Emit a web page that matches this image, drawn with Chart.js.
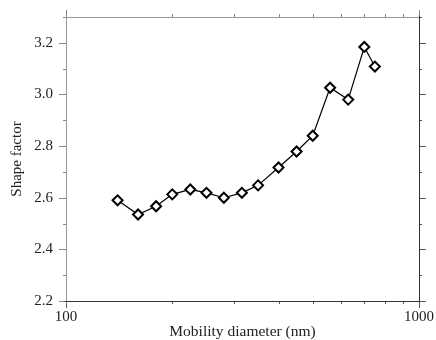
<!DOCTYPE html>
<html>
<head>
<meta charset="utf-8">
<script src="https://cdn.jsdelivr.net/npm/chart.js@4"></script>
<style>
  html, body { margin: 0; padding: 0; background: #fff; }
  #wrap { width: 436px; height: 340px; }
</style>
</head>
<body>
<div id="wrap"><canvas id="chart-shape"></canvas></div>
<script>
// Data
var diameters = [140, 160, 180, 200, 225, 250, 280, 315, 350, 400, 450, 500, 560, 630, 700, 750];
var shapeFactors = [2.59, 2.535, 2.567, 2.613, 2.632, 2.619, 2.60, 2.619, 2.648, 2.717, 2.779, 2.84, 3.026, 2.98, 3.184, 3.108];
var xTicks = [100, 200, 300, 400, 500, 600, 700, 800, 900, 1000];
var xLabels = [100, 1000];
var yTicks = [2.2, 2.3, 2.4, 2.5, 2.6, 2.7, 2.8, 2.9, 3.0, 3.1, 3.2, 3.3];
var yLabels = [2.2, 2.4, 2.6, 2.8, 3.0, 3.2];

var serif = "'Liberation Serif', 'DejaVu Serif', serif";

// Frame and tick marks on all four sides
var framePlugin = {
    id: 'frame',
    afterDraw: function (chart) {
        var ctx = chart.ctx;
        var a = chart.chartArea;
        var xs = chart.scales.x;
        var ys = chart.scales.y;
        ctx.save();
        ctx.lineWidth = 1;

        function line(x1, y1, x2, y2, color) {
            ctx.strokeStyle = color;
            ctx.beginPath();
            ctx.moveTo(x1, y1);
            ctx.lineTo(x2, y2);
            ctx.stroke();
        }

        // x ticks (bottom and top, outward)
        xTicks.forEach(function (v) {
            var px = Math.round(xs.getPixelForValue(v)) + 0.5;
            var len = xLabels.indexOf(v) >= 0 ? 7 : 3;
            line(px, a.bottom, px, a.bottom + len, '#555');
            line(px, a.top, px, a.top - len, '#888');
        });
        // y ticks (left and right, outward)
        yTicks.forEach(function (v) {
            var py = Math.round(ys.getPixelForValue(v)) + 0.5;
            var major = yLabels.some(function (l) { return Math.abs(l - v) < 1e-6; });
            var len = major ? 7 : 3;
            line(a.left, py, a.left - len, py, '#888');
            line(a.right, py, a.right + len, py, '#555');
        });

        var l = Math.round(a.left) + 0.5, r = Math.round(a.right) + 0.5;
        var t = Math.round(a.top) + 0.5, b = Math.round(a.bottom) + 0.5;
        line(l, t, r, t, '#999');
        line(l, t, l, b + 2, '#999');
        line(l - 2, b, r, b, '#333');
        line(r, t - 2, r, b, '#333');
        ctx.restore();
    }
};

new Chart(document.getElementById('chart-shape'), {
    type: 'line',
    data: {
        datasets: [{
            label: 'Shape factor',
            data: diameters.map(function (d, i) { return { x: d, y: shapeFactors[i] }; }),
            borderColor: '#000',
            borderWidth: 1.2,
            pointStyle: 'rectRot',
            pointRadius: 5,
            pointBorderWidth: 2,
            pointBorderColor: '#000',
            pointBackgroundColor: '#fff',
            tension: 0,
            fill: false
        }]
    },
    options: {
        responsive: true,
        maintainAspectRatio: false,
        animation: false,
        layout: { padding: { left: 0, right: 17, top: 17, bottom: 0 } },
        plugins: {
            legend: { display: false },
            tooltip: { enabled: false }
        },
        scales: {
            x: {
                type: 'logarithmic',
                min: 100,
                max: 1000,
                afterBuildTicks: function (scale) {
                    scale.ticks = xTicks.map(function (v) { return { value: v }; });
                },
                afterFit: function (scale) { scale.height = 39; },
                grid: { display: false, drawTicks: true, tickLength: 7, tickColor: 'rgba(0,0,0,0)' },
                border: { display: false },
                ticks: {
                    autoSkip: false,
                    maxRotation: 0,
                    padding: 0,
                    color: '#222',
                    font: { family: serif, size: 15 },
                    callback: function (v) {
                        return xLabels.indexOf(v) >= 0 ? String(v) : '';
                    }
                },
                title: {
                    display: true,
                    text: 'Mobility diameter (nm)',
                    color: '#222',
                    font: { family: serif, size: 15.5, lineHeight: 1 },
                    padding: { top: 0, bottom: 0 }
                }
            },
            y: {
                min: 2.2,
                max: 3.3,
                afterBuildTicks: function (scale) {
                    scale.ticks = yLabels.map(function (v) { return { value: v }; });
                },
                afterFit: function (scale) { scale.width = 66; },
                grid: { display: false, drawTicks: true, tickLength: 7, tickColor: 'rgba(0,0,0,0)' },
                border: { display: false },
                ticks: {
                    padding: 6,
                    color: '#222',
                    font: { family: serif, size: 15 },
                    callback: function (v) { return Number(v).toFixed(1); }
                },
                title: {
                    display: true,
                    text: 'Shape factor',
                    color: '#222',
                    font: { family: serif, size: 15, lineHeight: 1.2 },
                    padding: { top: 8, bottom: 0 }
                }
            }
        }
    },
    plugins: [framePlugin]
});
</script>
</body>
</html>
